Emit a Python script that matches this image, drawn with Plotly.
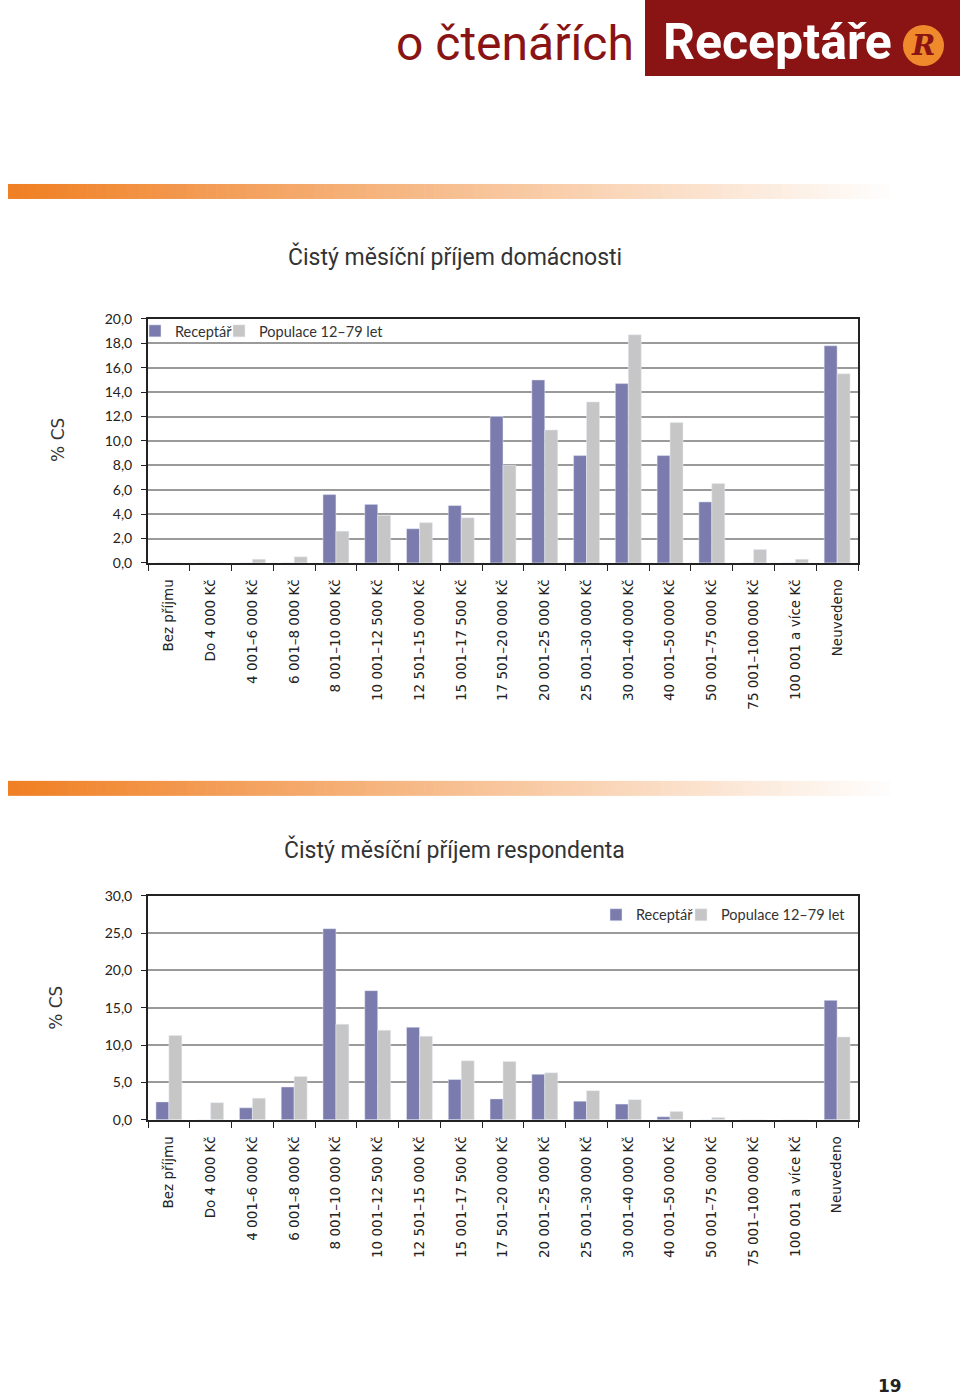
import plotly.graph_objects as go

categories = [
    "Bez příjmu", "Do 4 000 Kč", "4 001–6 000 Kč", "6 001–8 000 Kč",
    "8 001–10 000 Kč", "10 001–12 500 Kč", "12 501–15 000 Kč",
    "15 001–17 500 Kč", "17 501–20 000 Kč", "20 001–25 000 Kč",
    "25 001–30 000 Kč", "30 001–40 000 Kč", "40 001–50 000 Kč",
    "50 001–75 000 Kč", "75 001–100 000 Kč", "100 001 a více Kč", "Neuvedeno",
]

# Čistý měsíční příjem domácnosti
household_receptar = [0.0, 0.0, 0.0, 0.0, 5.6, 4.8, 2.8, 4.7, 12.0, 15.0,
                      8.8, 14.7, 8.8, 5.0, 0.0, 0.0, 17.8]
household_populace = [0.0, 0.0, 0.3, 0.5, 2.6, 3.9, 3.3, 3.7, 8.0, 10.9,
                      13.2, 18.7, 11.5, 6.5, 1.1, 0.3, 15.5]

# Čistý měsíční příjem respondenta
resp_receptar = [2.4, 0.0, 1.6, 4.4, 25.6, 17.3, 12.4, 5.4, 2.8, 6.1,
                 2.5, 2.1, 0.4, 0.0, 0.0, 0.0, 16.0]
resp_populace = [11.3, 2.3, 2.9, 5.8, 12.8, 12.0, 11.2, 7.9, 7.8, 6.3,
                 3.9, 2.7, 1.1, 0.3, 0.0, 0.0, 11.1]

series_names = ["Receptář", "Populace 12–79 let"]
colors = ["#7b7bad", "#c6c6c6"]

W, H = 960, 1396
# the photographed page comes out slightly squeezed vertically, so page
# positions are mapped back to figure pixels before use
OFF, SC = 9.0, 0.988


def py(px):
    return 1 - ((px - OFF) / SC) / H


fig = go.Figure()

fig.add_trace(go.Bar(x=categories, y=household_receptar, name=series_names[0],
                     marker_color=colors[0], xaxis="x", yaxis="y", legend="legend"))
fig.add_trace(go.Bar(x=categories, y=household_populace, name=series_names[1],
                     marker_color=colors[1], xaxis="x", yaxis="y", legend="legend2"))
fig.add_trace(go.Bar(x=categories, y=resp_receptar, name=series_names[0],
                     marker_color=colors[0], xaxis="x2", yaxis="y2", legend="legend3"))
fig.add_trace(go.Bar(x=categories, y=resp_populace, name=series_names[1],
                     marker_color=colors[1], xaxis="x2", yaxis="y2", legend="legend4"))

tick_font = dict(family="DejaVu Sans", size=13.5, color="#222")
ytick_font = dict(family="Lato, Open Sans", size=14, color="#222")
legend_font = dict(family="Lato, Open Sans", size=14.5, color="#333")

xaxis_common = dict(
    domain=[148 / W, 858 / W], type="category", tickangle=-90,
    showline=True, linecolor="#222", linewidth=2, mirror=True,
    ticks="outside", tickson="boundaries", ticklen=6, tickcolor="#222",
    tickfont=tick_font, showgrid=False, ticklabelstandoff=9,
)
yaxis_common = dict(
    showline=True, linecolor="#222", linewidth=2, mirror=True,
    ticks="outside", ticklen=5, tickcolor="#222", tickformat=".1f",
    gridcolor="#9a9a9a", gridwidth=1.5, tickfont=ytick_font, zeroline=False,
    ticklabelstandoff=6,
)


def leg(x_px, y_px):
    # one legend per entry so the spacing follows the original
    return dict(orientation="h", x=x_px / W, y=py(y_px), xanchor="left", yanchor="top",
                font=legend_font, bgcolor="rgba(0,0,0,0)", itemwidth=30)


fig.update_layout(
    width=W, height=H, autosize=False,
    margin=dict(l=0, r=0, t=0, b=0),
    paper_bgcolor="white", plot_bgcolor="white",
    separators=", ",
    barmode="group", bargap=0.38, bargroupgap=0.0,
    xaxis=dict(anchor="y", **xaxis_common),
    yaxis=dict(domain=[py(563), py(319)], range=[0, 20], dtick=2, anchor="x", **yaxis_common),
    xaxis2=dict(anchor="y2", **xaxis_common),
    yaxis2=dict(domain=[py(1120), py(896)], range=[0, 30], dtick=5, anchor="x2", **yaxis_common),
    legend=leg(135, 315),
    legend2=leg(219, 315),
    legend3=leg(596, 899),
    legend4=leg(681, 899),
    showlegend=True,
)

shapes = []
# header box
shapes.append(dict(type="rect", xref="paper", yref="paper", x0=645 / W, x1=1,
                   y0=py(76), y1=1.01, fillcolor="#8a1414", line_width=0, layer="below"))
# R logo circle
shapes.append(dict(type="circle", xref="paper", yref="paper",
                   x0=903 / W, x1=944 / W, y0=py(66), y1=py(25),
                   fillcolor="#f0892c", line_width=0))


# orange gradient bars
def gradient(y_top, y_bot, x_start=8, x_end=900, n=90):
    out = []
    step = (x_end - x_start) / n
    for i in range(n):
        t = i / (n - 1)
        r = int(240 + (255 - 240) * t)
        g = int(128 + (255 - 128) * t)
        b = int(36 + (255 - 36) * t)
        out.append(dict(type="rect", xref="paper", yref="paper",
                        x0=(x_start + i * step) / W, x1=(x_start + (i + 1) * step + 0.6) / W,
                        y0=py(y_bot), y1=py(y_top),
                        fillcolor=f"rgb({r},{g},{b})", line_width=0, layer="below"))
    return out


shapes += gradient(184, 199)
shapes += gradient(781, 796)
fig.update_layout(shapes=shapes)

head = "Roboto, Liberation Sans"
annotations = [
    dict(text="o čtenářích", x=636 / W, y=py(44), xanchor="right", yanchor="middle",
         font=dict(family=head, size=48, color="#8a1414")),
    dict(text="<b>Receptáře</b>", x=661 / W, y=py(42), xanchor="left", yanchor="middle",
         font=dict(family=head, size=50, color="white")),
    dict(text="<b><i>R</i></b>", x=923 / W, y=py(46), xanchor="center", yanchor="middle",
         font=dict(family="DejaVu Serif", size=28, color="#8a1414")),
    dict(text="Čistý měsíční příjem domácnosti", x=455 / W, y=py(257), xanchor="center",
         yanchor="middle", font=dict(family=head, size=23, color="#333")),
    dict(text="Čistý měsíční příjem respondenta", x=454 / W, y=py(850), xanchor="center",
         yanchor="middle", font=dict(family=head, size=23, color="#333")),
    dict(text="% CS", x=58 / W, y=py(440), textangle=-90, xanchor="center", yanchor="middle",
         font=dict(family="DejaVu Sans", size=17, color="#333")),
    dict(text="% CS", x=56 / W, y=py(1008), textangle=-90, xanchor="center", yanchor="middle",
         font=dict(family="DejaVu Sans", size=17, color="#333")),
    dict(text="<b>19</b>", x=890 / W, y=py(1386), xanchor="center", yanchor="middle",
         font=dict(family="DejaVu Sans", size=17, color="#222")),
]
for a in annotations:
    a.update(xref="paper", yref="paper", showarrow=False)
fig.update_layout(annotations=annotations)

page_fix = (
    "document.documentElement.style.overflow='hidden';"
    "document.body.style.margin='0';"
    "document.body.style.overflow='hidden';"
    "var gd=document.getElementById('{plot_id}');"
    "gd.style.position='absolute';gd.style.top='0px';gd.style.left='0px';"
)
fig.write_html("out.html", config={"displayModeBar": False}, post_script=page_fix)
